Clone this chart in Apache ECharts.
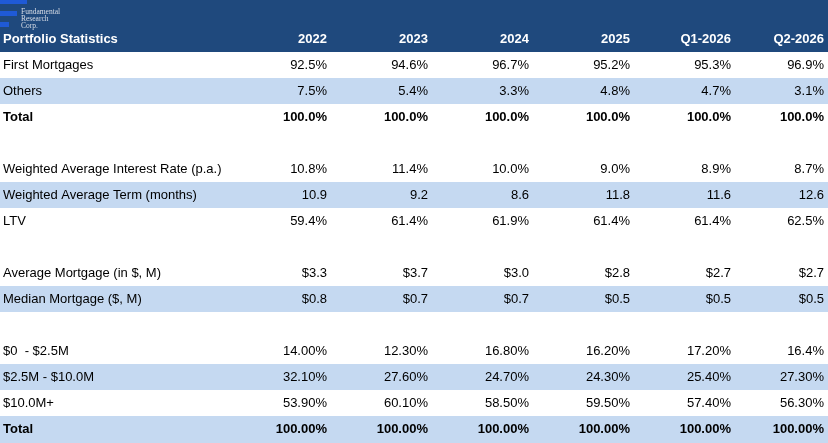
<!DOCTYPE html>
<html><head><meta charset="utf-8">
<script src="https://cdn.jsdelivr.net/npm/echarts@6/dist/echarts.min.js"></script>
<style>html,body{margin:0;padding:0;background:#fff}#c{width:828px;height:443px}</style>
</head><body><div id="c"></div>
<script>
// ---- data ----
const title = 'Portfolio Statistics';
const columns = ['2022', '2023', '2024', '2025', 'Q1-2026', 'Q2-2026'];
const rowLabels = [
  'First Mortgages', 'Others', 'Total', '',
  'Weighted Average Interest Rate (p.a.)', 'Weighted Average Term (months)', 'LTV', '',
  'Average Mortgage (in $, M)', 'Median Mortgage ($, M)', '',
  '$0  - $2.5M', '$2.5M - $10.0M', '$10.0M+', 'Total'
];
const firstMortgages = ['92.5%', '94.6%', '96.7%', '95.2%', '95.3%', '96.9%'];
const others = ['7.5%', '5.4%', '3.3%', '4.8%', '4.7%', '3.1%'];
const typeTotal = ['100.0%', '100.0%', '100.0%', '100.0%', '100.0%', '100.0%'];
const interestRate = ['10.8%', '11.4%', '10.0%', '9.0%', '8.9%', '8.7%'];
const avgTerm = ['10.9', '9.2', '8.6', '11.8', '11.6', '12.6'];
const ltv = ['59.4%', '61.4%', '61.9%', '61.4%', '61.4%', '62.5%'];
const avgMortgage = ['$3.3', '$3.7', '$3.0', '$2.8', '$2.7', '$2.7'];
const medianMortgage = ['$0.8', '$0.7', '$0.7', '$0.5', '$0.5', '$0.5'];
const size0to2_5 = ['14.00%', '12.30%', '16.80%', '16.20%', '17.20%', '16.4%'];
const size2_5to10 = ['32.10%', '27.60%', '24.70%', '24.30%', '25.40%', '27.30%'];
const size10plus = ['53.90%', '60.10%', '58.50%', '59.50%', '57.40%', '56.30%'];
const sizeTotal = ['100.00%', '100.00%', '100.00%', '100.00%', '100.00%', '100.00%'];

const rowValues = [
  firstMortgages, others, typeTotal, null,
  interestRate, avgTerm, ltv, null,
  avgMortgage, medianMortgage, null,
  size0to2_5, size2_5to10, size10plus, sizeTotal
];

// ---- layout / style ----
const boldRows = [2, 14];
const shadedRows = [1, 5, 9, 12, 14];
const colRight = [331, 432, 533, 634, 735, 828];
const HEADER_SLOTS = 2;
const TOTAL_SLOTS = HEADER_SLOTS + rowLabels.length;
const DARK = '#1F497D';
const LIGHT = '#C5D9F1';
const FONT = '"Liberation Sans", Arial, sans-serif';
const LOGO_FONT = '"Liberation Serif", serif';

function txt(text, x, y, align, bold, color) {
  return {
    type: 'text',
    style: {
      text: text, x: x, y: y, align: align, verticalAlign: 'middle',
      fontFamily: FONT, fontSize: 13, fontWeight: bold ? 'bold' : 'normal',
      fill: color
    }
  };
}

const data = [{ value: [0, 0] }].concat(rowLabels.map((l, i) => ({ value: [0, i + HEADER_SLOTS] })));

const chart = echarts.init(document.getElementById('c'), null, { renderer: 'canvas' });
chart.setOption({
  animation: false,
  grid: { left: 0, top: 0, width: 828, height: 442 },
  xAxis: { type: 'value', min: 0, max: 828, show: false },
  yAxis: { type: 'value', min: 0, max: TOTAL_SLOTS, inverse: true, show: false },
  graphic: [
    { type: 'rect', shape: { x: 0, y: 0, width: 27, height: 4 }, style: { fill: '#1F5AD6' }, z: 100 },
    { type: 'rect', shape: { x: 0, y: 11, width: 17, height: 5 }, style: { fill: '#1F5AD6' }, z: 100 },
    { type: 'rect', shape: { x: 0, y: 22, width: 9, height: 5 }, style: { fill: '#1F5AD6' }, z: 100 },
    { type: 'text', x: 21, y: 12, style: { text: 'Fundamental', fontFamily: LOGO_FONT, fontSize: 7.5, fill: '#D8DDE6', verticalAlign: 'middle' }, z: 100 },
    { type: 'text', x: 21, y: 19, style: { text: 'Research', fontFamily: LOGO_FONT, fontSize: 7.5, fill: '#D8DDE6', verticalAlign: 'middle' }, z: 100 },
    { type: 'text', x: 21, y: 26, style: { text: 'Corp.', fontFamily: LOGO_FONT, fontSize: 7.5, fill: '#D8DDE6', verticalAlign: 'middle' }, z: 100 }
  ],
  series: [{
    type: 'custom',
    coordinateSystem: 'cartesian2d',
    clip: false,
    data: data,
    renderItem: function (params, api) {
      const top = api.value(1);
      const left = api.coord([0, top])[0];
      const right = api.coord([828, top])[0];
      const children = [];
      if (params.dataIndex === 0) {
        const y0 = api.coord([0, 0])[1];
        const y1 = api.coord([0, HEADER_SLOTS])[1];
        const ym = api.coord([0, HEADER_SLOTS - 0.5])[1];
        children.push({ type: 'rect', shape: { x: left, y: y0, width: right - left, height: y1 - y0 }, style: { fill: DARK } });
        children.push(txt(title, left + 3, ym, 'left', true, '#FFFFFF'));
        columns.forEach((c, j) => {
          children.push(txt(c, api.coord([colRight[j], 0])[0] - 4, ym, 'right', true, '#FFFFFF'));
        });
        return { type: 'group', children: children };
      }
      const r = params.dataIndex - 1;
      const y0 = api.coord([0, top])[1];
      const y1 = api.coord([0, top + 1])[1];
      const ym = api.coord([0, top + 0.5])[1];
      const bold = boldRows.indexOf(r) >= 0;
      if (shadedRows.indexOf(r) >= 0) {
        children.push({ type: 'rect', shape: { x: left, y: y0, width: right - left, height: y1 - y0 + (r === rowLabels.length - 1 ? 1 : 0) }, style: { fill: LIGHT } });
      }
      if (rowLabels[r]) children.push(txt(rowLabels[r], left + 3, ym, 'left', bold, '#000000'));
      const vals = rowValues[r];
      if (vals) {
        vals.forEach((v, j) => {
          children.push(txt(v, api.coord([colRight[j], 0])[0] - 4, ym, 'right', bold, '#000000'));
        });
      }
      return { type: 'group', children: children };
    }
  }]
});
</script>
</body></html>
